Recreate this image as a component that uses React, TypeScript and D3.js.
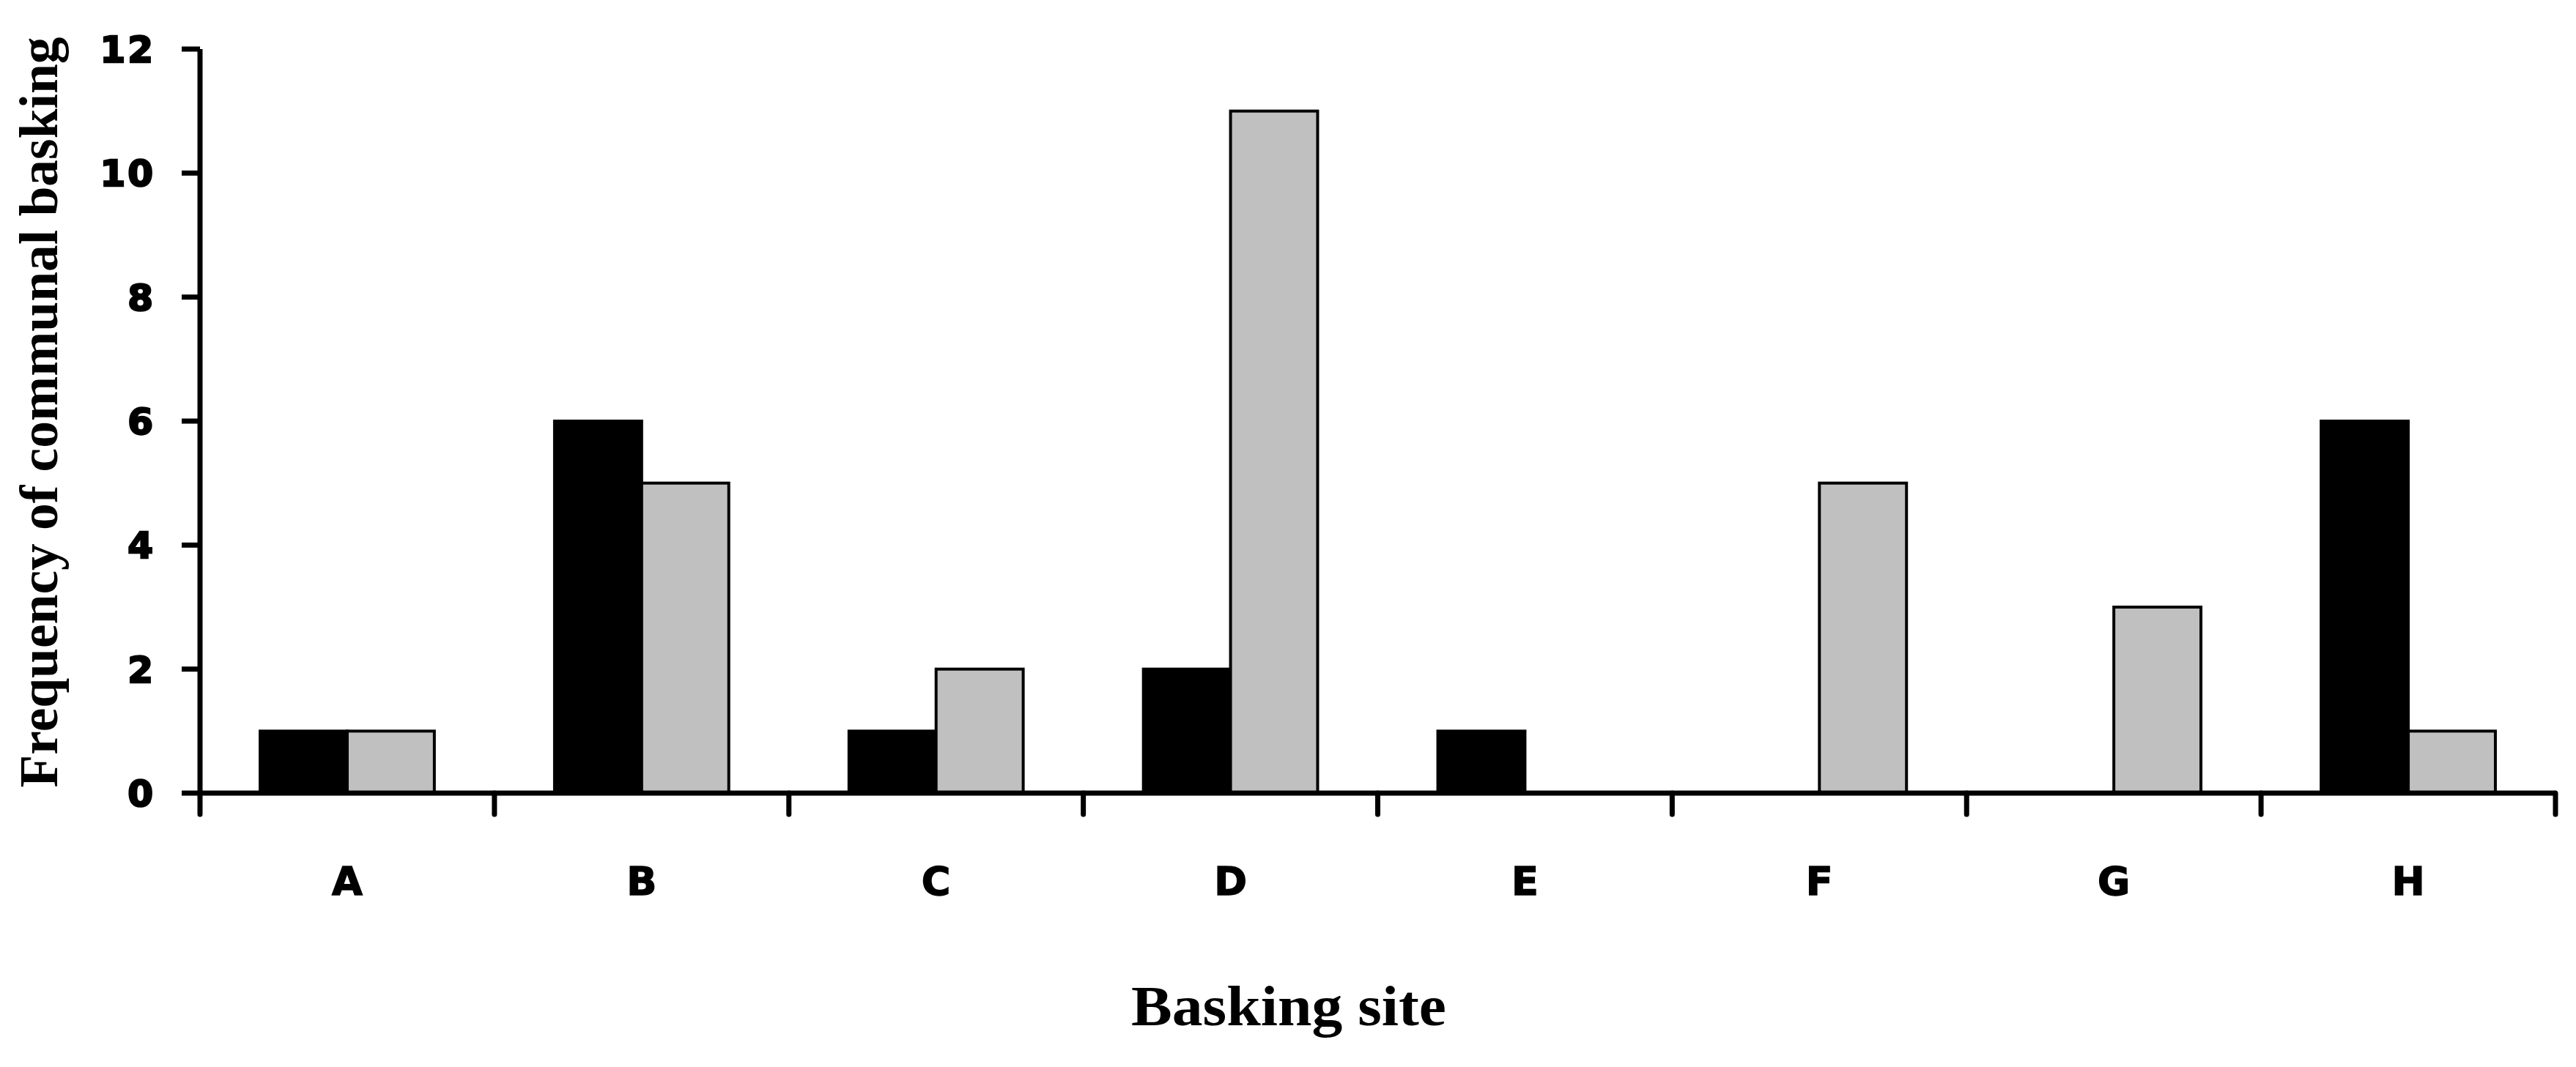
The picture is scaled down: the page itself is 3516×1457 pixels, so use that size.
import React from "react";
import * as d3 from "d3";

const categories = ["A", "B", "C", "D", "E", "F", "G", "H"];
const seriesNames = ["black", "gray"];
const blackValues = [1, 6, 1, 2, 1, 0, 0, 6];
const grayValues = [1, 5, 2, 11, 0, 5, 3, 1];
const yTicks = [0, 2, 4, 6, 8, 10, 12];
const xTitle = "Basking site";
const yTitle = "Frequency of communal basking";

const W = 3516;
const H = 1457;
const M = { left: 273, right: 3488, top: 67, bottom: 1083 };

export default function App() {
  const x = d3.scaleBand<string>().domain(categories).range([M.left, M.right]).paddingInner(0).paddingOuter(0);
  const x1 = d3.scaleBand<string>().domain(seriesNames).range([0, x.bandwidth()]).paddingInner(0).paddingOuter(0.69);
  const y = d3.scaleLinear().domain([0, 12]).range([M.bottom, M.top]);
  const fills: Record<string, string> = { black: "#000000", gray: "#c0c0c0" };
  const data = categories.map((c, i) => ({ c, vals: [blackValues[i], grayValues[i]] }));
  const boundaries = d3.range(categories.length + 1).map((i) => M.left + i * x.step());
  const tickLen = 29;

  return (
    <svg width={W} height={H} style={{ position: "absolute", left: 0, top: 0, background: "#fff" }}>
      <rect x={0} y={0} width={W} height={H} fill="#fff" />
      {data.map((d) =>
        d.vals.map((v, j) =>
          v > 0 ? (
            <rect
              key={d.c + j}
              x={(x(d.c) as number) + (x1(seriesNames[j]) as number)}
              y={y(v)}
              width={x1.bandwidth()}
              height={y(0) - y(v)}
              fill={fills[seriesNames[j]]}
              stroke="#000"
              strokeWidth={4}
            />
          ) : null
        )
      )}
      {/* x axis */}
      <line x1={M.left} x2={M.right} y1={y(0)} y2={y(0)} stroke="#000" strokeWidth={7} />
      {boundaries.map((bx, i) => (
        <line key={"xt" + i} x1={bx} x2={bx} y1={y(0)} y2={y(0) + tickLen} stroke="#000" strokeWidth={7} strokeLinecap="round" />
      ))}
      {/* y axis */}
      <line x1={M.left} x2={M.left} y1={y(12)} y2={y(0)} stroke="#000" strokeWidth={7} />
      {yTicks.map((t) => (
        <g key={"yt" + t}>
          <line x1={M.left - 25} x2={M.left} y1={y(t)} y2={y(t)} stroke="#000" strokeWidth={7} />
          <text
            x={212}
            y={y(t)}
            dy="0.36em"
            textAnchor="end"
            fontFamily="'DejaVu Sans', Verdana, sans-serif"
            fontWeight="bold"
            fontSize={50}
            letterSpacing={3}
            stroke="#000"
            strokeWidth={2.5}
            fill="#000"
          >
            {t}
          </text>
        </g>
      ))}
      {categories.map((c) => (
        <text
          key={"xl" + c}
          x={(x(c) as number) + x.bandwidth() / 2}
          y={1222}
          textAnchor="middle"
          fontFamily="'DejaVu Sans', Verdana, sans-serif"
          fontWeight="bold"
          fontSize={54}
          stroke="#000"
          strokeWidth={1.5}
          fill="#000"
        >
          {c}
        </text>
      ))}
      <text
        x={1759}
        y={1400}
        textAnchor="middle"
        fontFamily="'Liberation Serif', 'Times New Roman', serif"
        fontWeight="bold"
        fontSize={78}
        textLength={430}
        lengthAdjust="spacingAndGlyphs"
        fill="#000"
      >
        {xTitle}
      </text>
      <text
        transform={`translate(78, 563) rotate(-90)`}
        x={0}
        y={0}
        textAnchor="middle"
        fontFamily="'Liberation Serif', 'Times New Roman', serif"
        fontWeight="bold"
        fontSize={75}
        textLength={1025}
        lengthAdjust="spacingAndGlyphs"
        fill="#000"
      >
        {yTitle}
      </text>
    </svg>
  );
}
